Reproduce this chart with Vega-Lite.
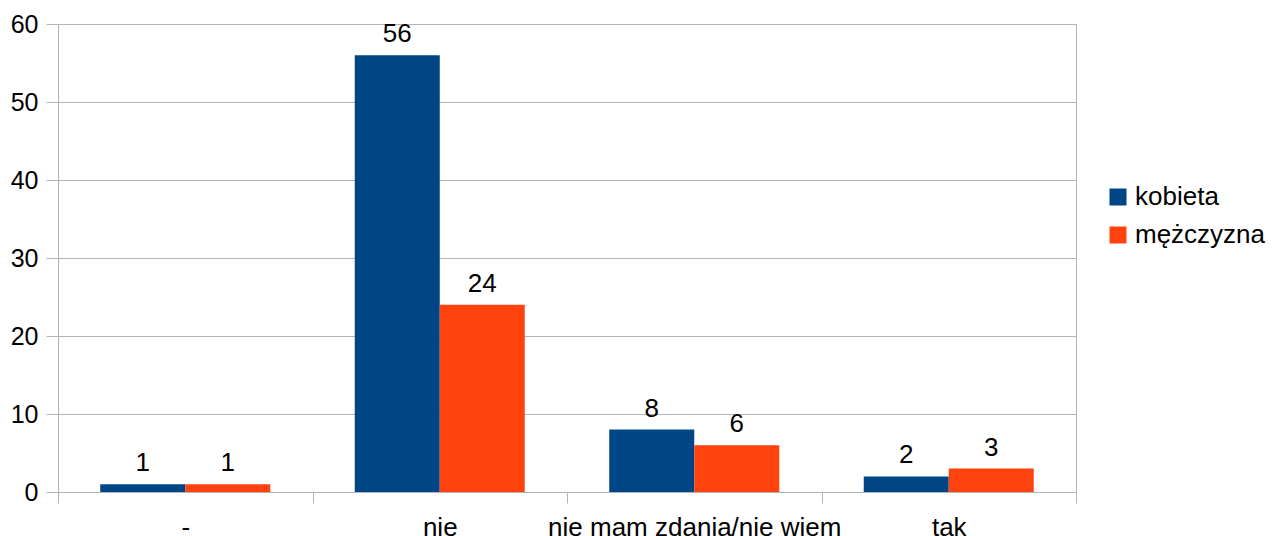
{
  "$schema": "https://vega.github.io/schema/vega-lite/v6.json",
  "width": 1018,
  "height": 468,
  "autosize": "none",
  "padding": {"left": 58, "top": 24, "right": 196, "bottom": 44},
  "config": {
    "font": "Liberation Sans",
    "view": {"stroke": "#b3b3b3", "strokeWidth": 1},
    "axis": {"labelFont": "Liberation Sans", "labelColor": "#000000", "domainColor": "#b3b3b3", "tickColor": "#b3b3b3", "gridColor": "#b3b3b3", "gridOpacity": 1}
  },
  "data": {
    "values": [
      {"odp": "-", "plec": "kobieta", "n": 1},
      {"odp": "-", "plec": "mężczyzna", "n": 1},
      {"odp": "nie", "plec": "kobieta", "n": 56},
      {"odp": "nie", "plec": "mężczyzna", "n": 24},
      {"odp": "nie mam zdania/nie wiem", "plec": "kobieta", "n": 8},
      {"odp": "nie mam zdania/nie wiem", "plec": "mężczyzna", "n": 6},
      {"odp": "tak", "plec": "kobieta", "n": 2},
      {"odp": "tak", "plec": "mężczyzna", "n": 3}
    ]
  },
  "encoding": {
    "x": {
      "field": "odp", "type": "nominal",
      "sort": ["-", "nie", "nie mam zdania/nie wiem", "tak"],
      "scale": {"paddingInner": 0, "paddingOuter": 0},
      "axis": {"title": null, "labelAngle": 0, "tickBand": "extent", "tickSize": 11, "grid": false, "labelFontSize": 26, "labelPadding": 11, "labelLimit": 0}
    },
    "xOffset": {"field": "plec", "type": "nominal", "sort": ["kobieta", "mężczyzna"], "scale": {"paddingInner": 0, "paddingOuter": 0.497}},
    "y": {
      "field": "n", "type": "quantitative",
      "scale": {"domain": [0, 60]},
      "axis": {"title": null, "values": [0, 10, 20, 30, 40, 50, 60], "tickSize": 12, "labelPadding": 8, "labelFontSize": 25, "grid": true}
    }
  },
  "layer": [
    {
      "mark": {"type": "bar"},
      "encoding": {
        "color": {
          "field": "plec", "type": "nominal",
          "scale": {"domain": ["kobieta", "mężczyzna"], "range": ["#004586", "#ff420e"]},
          "legend": {"title": null, "orient": "none", "legendX": 1047, "legendY": 160, "symbolType": "square", "symbolSize": 289, "symbolStrokeWidth": 0, "labelFontSize": 26, "labelColor": "#000000", "rowPadding": 12, "labelOffset": 4, "padding": 0}
        }
      }
    },
    {
      "mark": {"type": "text", "baseline": "bottom", "dy": -8, "fontSize": 26, "color": "#000000"},
      "encoding": {"text": {"field": "n", "type": "quantitative"}}
    }
  ]
}
